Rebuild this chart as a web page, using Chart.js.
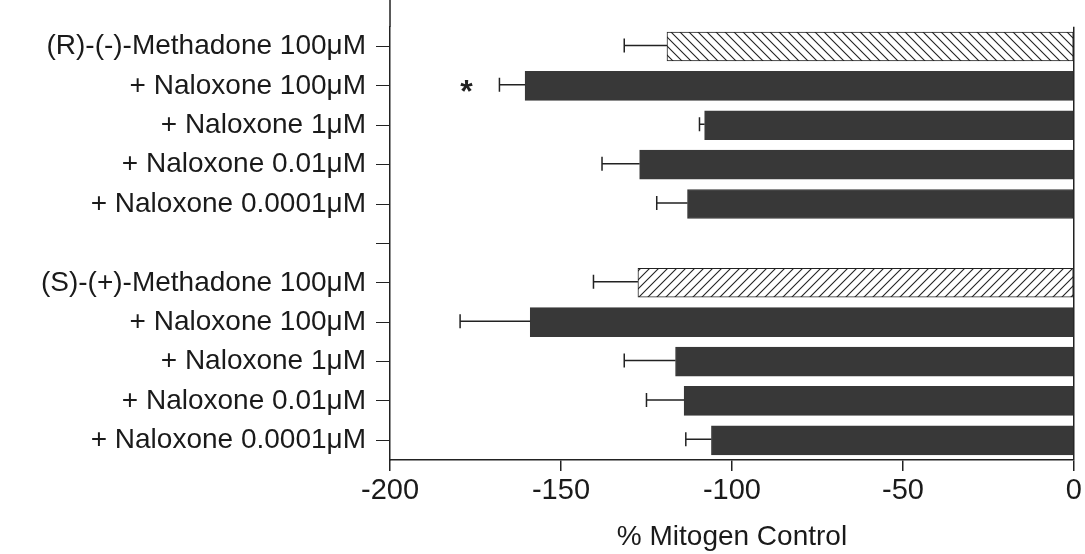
<!DOCTYPE html>
<html>
<head>
<meta charset="utf-8">
<script src="https://cdn.jsdelivr.net/npm/chart.js@4"></script>
<style>
  html, body { margin: 0; padding: 0; background: #fff; }
  #wrap { width: 1085px; height: 554px; }
</style>
</head>
<body>
<div id="wrap"><canvas id="chart"></canvas></div>
<script>
// data
const labels = [
  "(R)-(-)-Methadone 100μM",
  "+ Naloxone 100μM",
  "+ Naloxone 1μM",
  "+ Naloxone 0.01μM",
  "+ Naloxone 0.0001μM",
  "",
  "(S)-(+)-Methadone 100μM",
  "+ Naloxone 100μM",
  "+ Naloxone 1μM",
  "+ Naloxone 0.01μM",
  "+ Naloxone 0.0001μM",
];
const values = [-119, -160.5, -108, -127, -113, null, -127.5, -159, -116.5, -114, -106];
const errors = [12.5, 7.5, 1.5, 11, 9, null, 13, 20.5, 15, 11, 7.5];
const hatchedBars = { 0: "back", 6: "fwd" };
const starredBars = [1];
const xTicks = [-200, -150, -100, -50, 0];

const font = "'Liberation Sans', Arial, sans-serif";
const ink = "#1a1a1a";
const barFill = "#383838";

function hatch(dir) {
  const c = document.createElement("canvas");
  c.width = 9; c.height = 9;
  const g = c.getContext("2d");
  g.fillStyle = "#fff";
  g.fillRect(0, 0, 9, 9);
  g.strokeStyle = "#222";
  g.lineWidth = 1.1;
  g.beginPath();
  if (dir === "back") {
    g.moveTo(-1, -1); g.lineTo(10, 10);
    g.moveTo(-1, 8); g.lineTo(1, 10);
    g.moveTo(8, -1); g.lineTo(10, 1);
  } else {
    g.moveTo(-1, 10); g.lineTo(10, -1);
    g.moveTo(-1, 1); g.lineTo(1, -1);
    g.moveTo(8, 10); g.lineTo(10, 8);
  }
  g.stroke();
  return g.createPattern(c, "repeat");
}

const bg = values.map((v, i) => hatchedBars[i] ? hatch(hatchedBars[i]) : barFill);
const border = values.map((v, i) => hatchedBars[i] ? "#222" : barFill);

const errorBars = {
  id: "errorBars",
  afterDatasetsDraw(chart) {
    const { ctx, scales: { x, y } } = chart;
    ctx.save();
    ctx.strokeStyle = "#222";
    ctx.lineWidth = 1.5;
    values.forEach((v, i) => {
      if (v == null) return;
      const yp = y.getPixelForValue(i) - 1;
      const x1 = x.getPixelForValue(v);
      const x2 = x.getPixelForValue(v - errors[i]);
      ctx.beginPath();
      ctx.moveTo(x1, yp); ctx.lineTo(x2, yp);
      ctx.moveTo(x2, yp - 7); ctx.lineTo(x2, yp + 7);
      ctx.stroke();
    });
    // asterisk for significance
    ctx.fillStyle = "#222";
    ctx.font = "bold 32px " + font;
    ctx.textAlign = "center";
    ctx.textBaseline = "middle";
    starredBars.forEach(i => {
      const x2 = x.getPixelForValue(values[i] - errors[i]);
      ctx.fillText("*", x2 - 33, y.getPixelForValue(i) + 7);
    });
    // left axis continues up to the top edge
    ctx.lineWidth = 1.5;
    ctx.beginPath();
    ctx.moveTo(chart.chartArea.left, 0);
    ctx.lineTo(chart.chartArea.left, chart.chartArea.top);
    ctx.stroke();
    ctx.restore();
  }
};

new Chart(document.getElementById("chart"), {
  type: "bar",
  data: {
    labels: labels,
    datasets: [{
      data: values,
      backgroundColor: bg,
      borderColor: border,
      borderWidth: 1,
      borderSkipped: false,
      barThickness: 29,
    }],
  },
  options: {
    indexAxis: "y",
    responsive: true,
    maintainAspectRatio: false,
    animation: false,
    layout: { padding: { top: 21, right: 10, left: 0, bottom: 0 } },
    plugins: {
      legend: { display: false },
      tooltip: { enabled: false },
    },
    scales: {
      x: {
        min: -200,
        max: 0,
        afterBuildTicks: (s) => { s.ticks = xTicks.map(v => ({ value: v })); },
        afterFit: (s) => { s.height = 94; },
        border: { display: true, color: "#222", width: 1.5 },
        grid: {
          drawOnChartArea: true,
          color: (c) => (c.tick && c.tick.value === 0 ? "#222" : "rgba(0,0,0,0)"),
          lineWidth: 1.5,
          tickColor: "#222",
          tickLength: 11,
        },
        ticks: {
          color: ink,
          padding: 3,
          font: { family: font, size: 29 },
          maxRotation: 0,
        },
        title: {
          display: true,
          text: "% Mitogen Control",
          color: ink,
          padding: { top: 4, bottom: 0 },
          font: { family: font, size: 28 },
        },
      },
      y: {
        afterFit: (s) => { s.width = 390; },
        border: { display: true, color: "#222", width: 1.5 },
        grid: {
          offset: false,
          drawOnChartArea: false,
          tickColor: "#222",
          tickLength: 14,
        },
        ticks: {
          color: ink,
          padding: 10,
          autoSkip: false,
          font: { family: font, size: 28 },
        },
      },
    },
  },
  plugins: [errorBars],
});
</script>
</body>
</html>
